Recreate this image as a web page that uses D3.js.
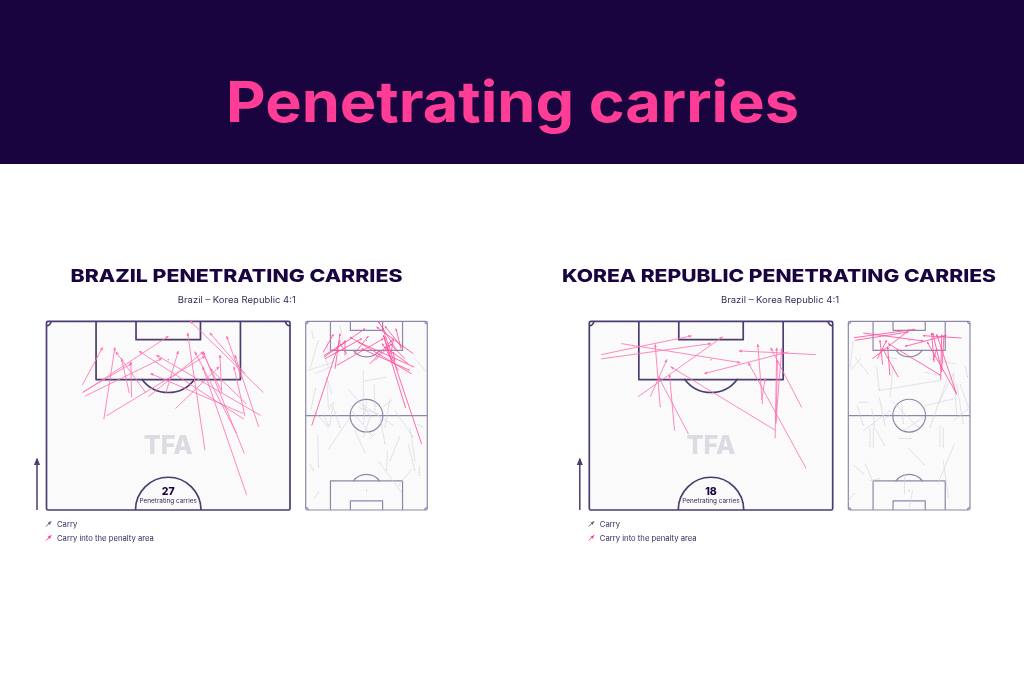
<!DOCTYPE html>
<html><head><meta charset="utf-8">
<script src="https://cdn.jsdelivr.net/npm/d3@7"></script>
<style>html,body{margin:0;padding:0;background:#fff;overflow:hidden}svg{display:block}text{font-family:Inter,"Open Sans",sans-serif}.soft{filter:blur(.35px)}</style>
</head><body>
<script>
// Carries: [startX, startY, endX, endY] on the reading grid of each pitch.
const brazilMain = [[157,225,218,112],[158,248,415,78],[165,258,395,145],[160,245,305,160],[222,327,255,112],[230,317,525,138],[298,248,275,145],[305,262,303,155],[348,248,258,125],[408,248,445,123],[355,260,520,125],[642,327,328,123],[692,316,380,135],[640,310,362,190],[437,295,567,170],[525,420,473,68],[650,555,518,170],[643,430,520,125],[620,370,495,125],[686,350,615,135],[650,282,540,175],[700,247,482,33],[645,190,540,68],[635,205,590,78],[577,248,517,125],[575,240,570,135],[645,318,612,170]];
const koreaMain = [[78,133,348,77],[78,146,407,100],[722,133,492,122],[640,125,388,190],[138,100,495,157],[188,260,442,80],[225,260,275,148],[255,292,240,103],[298,362,283,193],[340,372,250,200],[600,360,287,170],[562,282,548,102],[560,270,570,205],[600,385,605,113],[602,340,620,115],[680,292,587,113],[693,475,520,158],[603,340,607,150]];
const brazilMiniPink = [[85,125,115,72],[87,140,210,55],[90,145,200,85],[88,135,150,95],[120,175,135,70],[125,165,265,85],[150,135,150,90],[155,130,135,100],[178,130,220,78],[225,160,290,90],[350,190,165,80],[358,170,190,95],[345,180,200,115],[240,150,285,105],[380,400,262,50],[332,292,265,75],[310,180,262,100],[355,130,245,50],[320,110,270,48],[318,115,303,55],[290,150,268,80],[288,130,295,85],[50,345,135,90],[330,145,285,100],[305,120,250,33],[340,160,270,110],[300,155,295,125]];
const brazilMiniGrey = [[45,175,70,90],[95,90,100,130],[38,180,115,155],[60,190,110,168],[100,170,85,125],[110,250,95,200],[47,300,62,232],[55,300,100,350],[95,200,100,290],[103,350,115,275],[85,310,100,345],[100,415,165,320],[160,235,230,320],[205,180,205,310],[207,212,272,200],[237,220,240,300],[180,360,210,425],[170,300,230,375],[200,280,295,345],[255,320,270,400],[285,265,270,350],[262,290,290,270],[300,300,355,380],[365,340,385,350],[345,350,360,450],[340,400,360,480],[315,375,285,450],[250,450,320,545],[277,420,275,480],[373,465,373,495],[350,475,310,525],[68,372,70,470],[45,460,55,480],[58,562,72,542],[365,150,395,185],[135,45,145,100],[50,60,55,85],[205,380,225,320],[190,290,250,310],[215,270,205,340],[115,290,135,350],[330,190,355,165],[100,300,110,280],[240,370,225,385]];
const koreaMiniPink = [[42,82,225,57],[45,90,205,65],[365,83,250,76],[320,75,195,108],[70,68,250,92],[97,145,210,58],[112,145,140,90],[128,163,120,90],[150,195,143,110],[175,200,128,115],[303,195,145,100],[282,155,275,68],[280,150,290,115],[302,208,305,73],[305,185,312,75],[350,252,290,72],[350,250,262,95],[305,180,278,68]];
const koreaMiniGrey = [[32,178,62,145],[45,140,85,190],[115,240,300,210],[110,170,118,240],[150,260,160,165],[55,275,85,275],[52,285,70,345],[95,295,105,345],[70,360,150,300],[118,260,135,345],[155,270,235,350],[190,360,250,320],[185,280,190,340],[175,383,215,383],[90,350,90,408],[100,350,100,410],[97,340,135,405],[205,412,253,462],[300,345,300,408],[310,350,310,410],[343,400,295,515],[40,462,72,490],[75,458,100,515],[90,510,120,503],[195,490,193,548],[218,537,208,588],[25,570,43,547],[310,450,325,560],[255,285,340,265],[340,185,350,310],[340,190,300,270],[320,210,270,350],[360,220,385,290],[350,220,370,340],[340,330,385,295],[270,145,345,160],[375,165,383,200],[255,185,300,195],[140,140,170,145],[130,330,165,300],[40,90,30,170]];
const pageTitle = "Penetrating carries";
const teamTitles = ["BRAZIL PENETRATING CARRIES","KOREA REPUBLIC PENETRATING CARRIES"];
const matchLabel = "Brazil – Korea Republic 4:1";
const carryCounts = [27,18];
const countLabel = "Penetrating carries";
const legendLabels = ["Carry","Carry into the penalty area"];

const INK="#19043f", PINK="#ff3d96", SOFT="#ff74b4", MINI="#ff529f", LINE="#4d3c70", LINE2="#8f87a8", GREY="#d3d0dd";
const svg=d3.select("body").append("svg").attr("width",1024).attr("height",683);
const defs=svg.append("defs");
const pat=defs.append("pattern").attr("id","dots").attr("width",3).attr("height",3).attr("patternUnits","userSpaceOnUse");
pat.append("rect").attr("width",3).attr("height",3).attr("fill","#fbfbfb");
pat.append("circle").attr("cx",1).attr("cy",1).attr("r",.45).attr("fill","#f2f2f4");
function marker(id,c,s){defs.append("marker").attr("id",id).attr("viewBox","0 0 10 10").attr("refX",8).attr("refY",5)
 .attr("markerWidth",s).attr("markerHeight",s).attr("markerUnits","userSpaceOnUse").attr("orient","auto")
 .append("path").attr("d","M0,1L10,5L0,9Z").attr("fill",c);}
marker("ap",SOFT,3.6);marker("apS",MINI,2.6);marker("ag",GREY,1.5);marker("al","#6b6080",4);marker("am",PINK,4);marker("ai",LINE,8);

svg.append("rect").attr("width",1024).attr("height",164).attr("fill",INK);
svg.append("text").attr("x",226).attr("y",122).attr("textLength",573).attr("lengthAdjust","spacingAndGlyphs")
 .attr("font-size",56).attr("font-weight",700).attr("fill",PINK).text(pageTitle);

function pitch(g,x,y,full,lc,lw){
 const len=full?105:52.5;
 const sx=d3.scaleLinear().domain([0,68]).range(x), sy=d3.scaleLinear().domain([0,len]).range(y);
 const k=sx(1)-sx(0);
 g.append("rect").attr("x",x[0]).attr("y",y[0]).attr("width",x[1]-x[0]).attr("height",y[1]-y[0]).attr("fill","url(#dots)");
 const l=g.append("g").attr("fill","none").attr("stroke",lc).attr("stroke-width",lw).attr("stroke-linejoin","round");
 l.append("rect").attr("x",x[0]).attr("y",y[0]).attr("width",x[1]-x[0]).attr("height",y[1]-y[0]).attr("rx",1.5);
 const rbox=(a,b,c,d)=>l.append("path").attr("d",`M${sx(a)},${sy(c)}L${sx(a)},${sy(d)}L${sx(b)},${sy(d)}L${sx(b)},${sy(c)}`);
 const goals=full?[[0,1],[105,-1]]:[[0,1]];
 goals.forEach(([g0,dir])=>{
  rbox(13.84,54.16,g0,g0+dir*16.2);
  rbox(25,43,g0,g0+dir*5.1);
  const arc=d3.arc().innerRadius(9.15*k).outerRadius(9.15*k);
  const a=Math.acos(5.5/9.15);
  const ang=dir>0?[Math.PI-a,Math.PI+a]:[-a,a];
  l.append("path").attr("transform",`translate(${sx(34)},${sy(g0+dir*10.7)})`).attr("d",arc.startAngle(ang[0]).endAngle(ang[1])());
  g.append("circle").attr("cx",sx(34)).attr("cy",sy(g0+dir*10.7)).attr("r",.5).attr("fill",lc);
 });
 const cr=full?2.5:4.5;
 const cs=full?[[0,0],[68,0],[0,105],[68,105]]:[[0,0],[68,0]];
 cs.forEach(([cx,cy])=>{
  const dx=cx?-1:1,dy=cy?-1:1;
  l.append("path").attr("d",`M${sx(cx)+dx*cr},${sy(cy)}A${cr},${cr} 0 0 ${dx*dy>0?1:0} ${sx(cx)},${sy(cy)+dy*cr}`);
 });
 if(full){
  l.append("line").attr("x1",x[0]).attr("x2",x[1]).attr("y1",sy(52.5)).attr("y2",sy(52.5));
  l.append("circle").attr("cx",sx(34)).attr("cy",sy(52.5)).attr("r",9.15*k);
 } else {
  l.append("path").attr("d",`M${sx(34-9.15)},${sy(52.5)}A${9.15*k},${9.15*k} 0 0 1 ${sx(34+9.15)},${sy(52.5)}`);
 }
}
function carries(g,data,gx,gy,x,y,color,w,op,mk){
 const sx=d3.scaleLinear().domain(gx).range(x), sy=d3.scaleLinear().domain(gy).range(y);
 g.append("g").selectAll("line").data(data).join("line")
  .attr("x1",d=>sx(d[0])).attr("y1",d=>sy(d[1])).attr("x2",d=>sx(d[2])).attr("y2",d=>sy(d[3]))
  .attr("stroke",color).attr("stroke-width",w).attr("stroke-opacity",op).attr("marker-end",`url(#${mk})`);
}
function panel(i,o){
 const g=svg.append("g").attr("class","soft");
 g.append("text").attr("x",o.tc).attr("y",281.5).attr("text-anchor","middle").attr("textLength",o.tw).attr("lengthAdjust","spacingAndGlyphs")
  .attr("font-size",17.5).attr("font-weight",800).attr("fill",INK).text(teamTitles[i]);
 g.append("text").attr("x",o.sc).attr("y",303).attr("text-anchor","middle").attr("textLength",118).attr("lengthAdjust","spacingAndGlyphs")
  .attr("font-size",8.6).attr("fill","#3a2a5c").text(matchLabel);
 const yr=[321.3,510];
 pitch(g,o.big,yr,false,LINE,1.7);
 g.append("text").attr("x",(o.big[0]+o.big[1])/2).attr("y",453.5).attr("text-anchor","middle").attr("font-size",26).attr("font-weight",800)
  .attr("fill","#dcdbe3").attr("textLength",49).attr("lengthAdjust","spacingAndGlyphs").text("TFA");
 carries(g,o.mainData,o.gridMain,[33,600],o.big,yr,SOFT,1,.85,"ap");
 const c=(o.big[0]+o.big[1])/2;
 g.append("text").attr("x",c).attr("y",494.5).attr("text-anchor","middle").attr("font-size",10.5).attr("font-weight",800).attr("fill",INK).text(carryCounts[i]);
 g.append("text").attr("x",c).attr("y",503.3).attr("text-anchor","middle").attr("font-size",6.4).attr("fill","#3a2a5c").text(countLabel);
 pitch(g,o.mini,yr,true,LINE2,1.2);
 carries(g,o.greyData,o.gridMini,[33,597],o.mini,yr,GREY,.7,.85,"ag");
 carries(g,o.pinkData,o.gridMini,[33,597],o.mini,yr,MINI,1,.85,"apS");
 const ax=o.big[0]-9.5;
 g.append("line").attr("x1",ax).attr("x2",ax).attr("y1",510).attr("y2",459).attr("stroke",LINE).attr("stroke-width",1.5).attr("marker-end","url(#ai)");
 legendLabels.forEach((t,j)=>{
  const ly=[524,538][j], lx=o.big[0];
  g.append("line").attr("x1",lx-.5).attr("y1",ly+2.5).attr("x2",lx+4.5).attr("y2",ly-2.5).attr("stroke",j?PINK:"#6b6080").attr("stroke-width",1).attr("marker-end",`url(#${j?"am":"al"})`);
  g.append("text").attr("x",lx+10.5).attr("y",ly+2.5).attr("font-size",7.7).attr("fill","#3a2a5c").text(t);
 });
}
panel(0,{tc:236.5,tw:332,sc:236.8,big:[46.5,290],mini:[305.7,427.3],mainData:brazilMain,pinkData:brazilMiniPink,greyData:brazilMiniGrey,gridMain:[50,780],gridMini:[32,397]});
panel(1,{tc:779,tw:434,sc:780,big:[589.3,832.7],mini:[848.3,970],mainData:koreaMain,pinkData:koreaMiniPink,greyData:koreaMiniGrey,gridMain:[42,773],gridMini:[25,390]});
</script>
</body></html>
